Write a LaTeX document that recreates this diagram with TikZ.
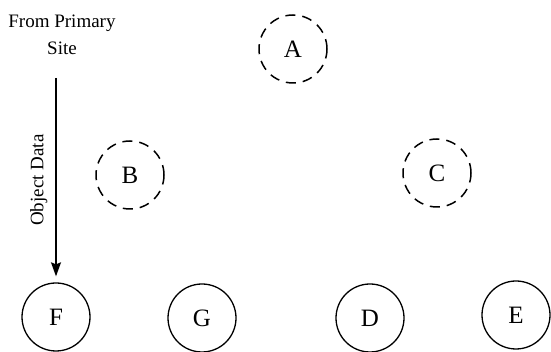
\documentclass[tikz,border=0pt]{standalone}
\usepackage{fontspec}
\setmainfont{Liberation Serif}
\usetikzlibrary{arrows.meta}
\begin{document}
\begin{tikzpicture}[x=1pt,y=1pt,
  site/.style={circle,draw,line width=1.3pt,minimum size=68pt,inner sep=0pt,
    font=\fontsize{25}{25}\selectfont},
  remote/.style={site,line width=1.5pt,dash pattern=on 10pt off 7pt},
  caption/.style={font=\fontsize{19}{27}\selectfont,align=center,inner sep=0pt},
  flow/.style={line width=1.3pt,-{Stealth[length=14pt,width=10pt,inset=2pt]}}]
  \useasboundingbox (0,0) rectangle (551,352);
  % remote (dashed) sites
  \node[remote] (A) at (293,303) {A};
  \node[remote] (B) at (130,177) {B};
  \node[remote] (C) at (437,179) {C};
  % local sites
  \node[site] (F) at (56,35) {F};
  \node[site] (G) at (202,34) {G};
  \node[site] (D) at (370,34) {D};
  \node[site] (E) at (516,37) {E};
  % incoming object data
  \node[caption,anchor=north] (src) at (62,337) {From Primary\\Site};
  \coordinate (top) at (56,274);
  \draw[flow,shorten >=6pt] (top) -- node[caption,rotate=90,anchor=south,inner sep=8pt] {Object Data} (F);
\end{tikzpicture}
\end{document}
